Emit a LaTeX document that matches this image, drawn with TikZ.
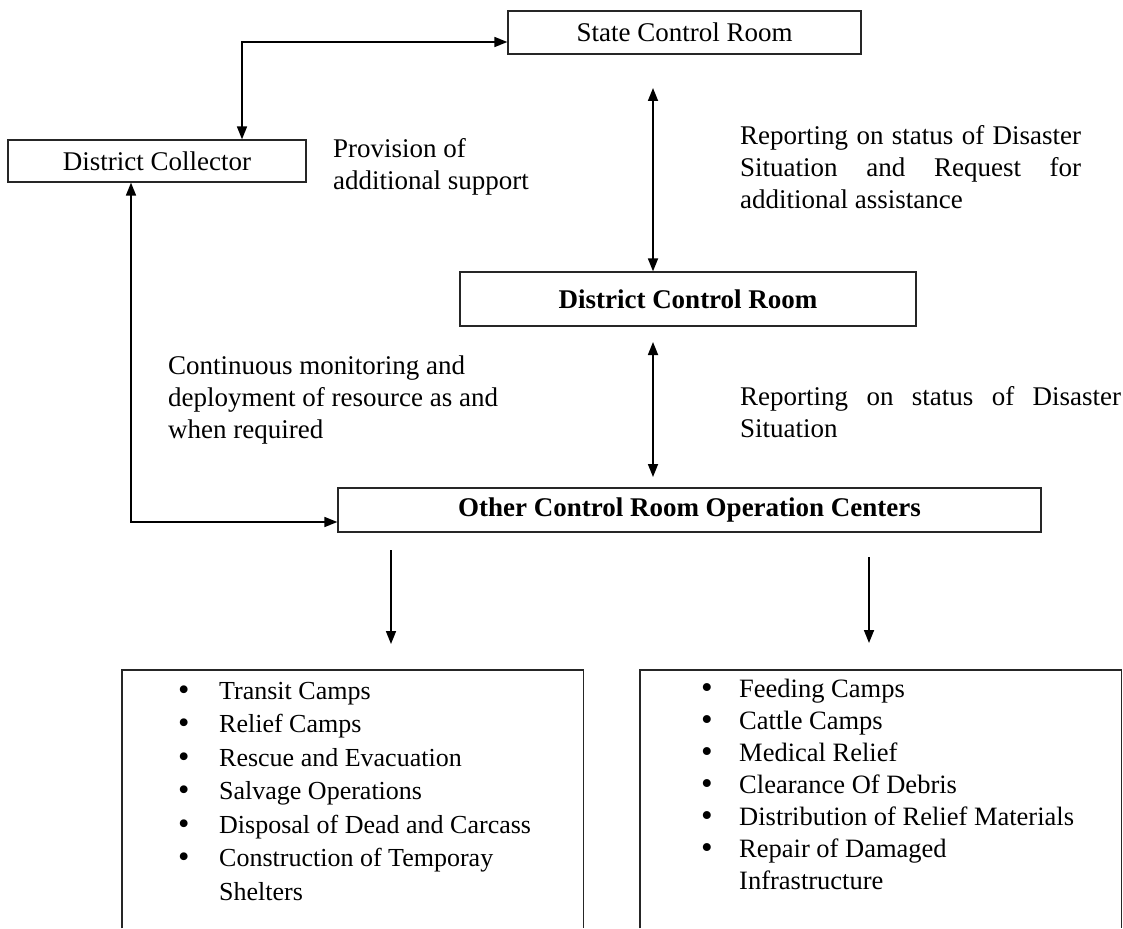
\documentclass[tikz,border=0pt]{standalone}
\usepackage{fontspec}
\setmainfont{Liberation Serif}
\usetikzlibrary{arrows.meta}
\newcommand\bul{\raisebox{-1pt}{\scalebox{1.25}{\textbullet}}}
\begin{document}
\begin{tikzpicture}[x=1pt,y=-1pt,
  box/.style={draw=black!85, line width=1.3pt, inner sep=0pt, font=\fontsize{27}{32}\selectfont},
  frame/.style={draw=black!85, line width=1.3pt},
  arr/.style={line width=1.7pt, -{Triangle[length=13pt,width=10pt]}},
  dbl/.style={line width=1.7pt, {Triangle[length=13pt,width=10pt]}-{Triangle[length=13pt,width=10pt]}},
  lbl/.style={anchor=base west, inner sep=0pt, font=\fontsize{27}{32}\selectfont},
  empty/.style={inner sep=0pt, anchor=north west},
]
\useasboundingbox (0,0) rectangle (1123,928);

% boxes
\node[box, minimum width=353pt, minimum height=43pt] (state) at (684.5,32.5) {State Control Room};
\node[box, minimum width=298pt, minimum height=42pt] (coll) at (157,161) {District Collector};
\node[box, minimum width=456pt, minimum height=54pt, font=\fontsize{27}{32}\selectfont\bfseries] (dcr) at (688,299) {District Control Room};
\node[box, minimum width=703pt, minimum height=44pt, font=\fontsize{27}{32}\selectfont\bfseries] (other) at (689.5,510) {Other Control Room Operation Centers};

% bottom open boxes
\node[empty, minimum width=461pt, minimum height=258pt] (lbox) at (122,670) {};
\node[empty, minimum width=481pt, minimum height=258pt] (rbox) at (640,670) {};
\draw[frame] (lbox.south west) -- (lbox.north west) -- (lbox.north east) -- (lbox.south east);
\draw[frame] (rbox.south west) -- (rbox.north west) -- (rbox.north east) -- (rbox.south east);

% connector coordinates
\coordinate (sA) at (653,88);
\coordinate (sB) at (653,342);
\coordinate (sC) at (653,477);
\coordinate (dL1) at (391,550);
\coordinate (dL2) at (391,644);
\coordinate (dR1) at (869,557);
\coordinate (dR2) at (869,643);

% connectors
\draw[dbl] ([xshift=85pt]coll.north) |- ([yshift=-9.5pt]state.west);
\draw[dbl] ([xshift=-26pt]coll.south) |- ([yshift=-12pt]other.west);
\draw[dbl] (sA) -- (sA |- dcr.north);
\draw[dbl] (sB) -- (sC);
\draw[arr] (dL1) -- (dL2);
\draw[arr] (dR1) -- (dR2);

% labels
\node[lbl] (prov) at (333,158) {\begin{tabular}[t]{@{}l@{}}Provision of\\additional support\end{tabular}};
\node[lbl] (rep1) at (740,145) {\begin{tabular}[t]{@{}l@{}}\makebox[341pt][s]{Reporting on status of Disaster}\\\makebox[341pt][s]{Situation and Request for}\\additional assistance\end{tabular}};
\node[lbl] (cont) at (168,374) {\begin{tabular}[t]{@{}l@{}}Continuous monitoring and\\deployment of resource as and\\when required\end{tabular}};
\node[lbl] (rep2) at (740,405) {\begin{tabular}[t]{@{}l@{}}\makebox[381pt][s]{Reporting on status of Disaster}\\Situation\end{tabular}};

% lists
\node[lbl, font=\fontsize{26}{33.5}\selectfont] (llist) at (178,699) {\begin{tabular}[t]{@{}p{41pt}@{}l@{}}
\bul & Transit Camps\\
\bul & Relief Camps\\
\bul & Rescue and Evacuation\\
\bul & Salvage Operations\\
\bul & Disposal of Dead and Carcass\\
\bul & Construction of Temporay\\
 & Shelters
\end{tabular}};
\node[lbl, font=\fontsize{26.5}{32}\selectfont] (rlist) at (701,697) {\begin{tabular}[t]{@{}p{38pt}@{}l@{}}
\bul & Feeding Camps\\
\bul & Cattle Camps\\
\bul & Medical Relief\\
\bul & Clearance Of Debris\\
\bul & Distribution of Relief Materials\\
\bul & Repair of Damaged\\
 & Infrastructure
\end{tabular}};
\end{tikzpicture}
\end{document}
